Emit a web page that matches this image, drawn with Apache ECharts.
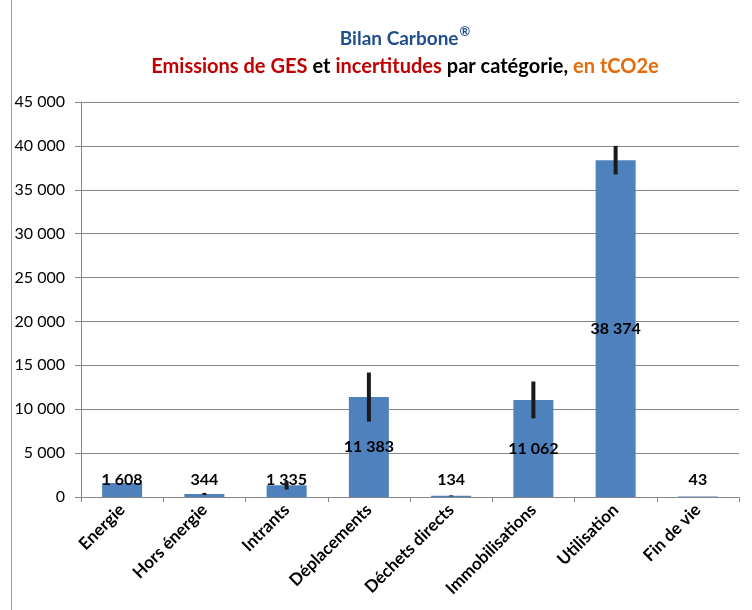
<!DOCTYPE html>
<html><head><meta charset="utf-8">
<script src="https://cdn.jsdelivr.net/npm/echarts@6/dist/echarts.min.js"></script>
<style>html,body{margin:0;padding:0;background:#fff}#c{width:752px;height:610px}</style>
</head><body><div id="c"></div>
<script>
const categories = ['Energie','Hors énergie','Intrants','Déplacements','Déchets directs','Immobilisations','Utilisation','Fin de vie'];
const emissions = [1608, 344, 1335, 11383, 134, 11062, 38374, 43];
const uncertainties = [0, 120, 480, 2800, 50, 2100, 1630, 0];
const yTicks = [0, 5000, 10000, 15000, 20000, 25000, 30000, 35000, 40000, 45000];

const fmt = v => String(Math.round(v)).replace(/\B(?=(\d{3})+(?!\d))/g, ' ');
const FONT = 'Lato';

const chart = echarts.init(document.getElementById('c'), null, {renderer: 'canvas'});
chart.setOption({
  animation: false,
  backgroundColor: '#fff',
  title: {
    left: 400, top: 20, textAlign: 'center',
    text: '{b|Bilan Carbone}{s|®}\n{r|Emissions de GES} {k|et} {r|incertitudes} {k|par catégorie,} {o|en tCO2e}',
    textStyle: {
      rich: {
        b: {fontFamily: FONT, fontWeight: 'bold', fontSize: 19, color: '#1F4E8C', lineHeight: 28},
        s: {fontFamily: FONT, fontWeight: 'bold', fontSize: 13, color: '#1F4E8C', lineHeight: 28, verticalAlign: 'top', padding: [0, 0, 6, 1]},
        r: {fontFamily: FONT, fontWeight: 'bold', fontSize: 20, color: '#C00000', lineHeight: 28},
        k: {fontFamily: FONT, fontWeight: 'bold', fontSize: 20, color: '#000', lineHeight: 28},
        o: {fontFamily: FONT, fontWeight: 'bold', fontSize: 20, color: '#E46C0A', lineHeight: 28}
      }
    }
  },
  graphic: [{type: 'line', shape: {x1: 11.5, y1: 0, x2: 11.5, y2: 610}, style: {stroke: '#A0A0A0', lineWidth: 1}}],
  grid: {left: 81, right: 13, top: 102, bottom: 113},
  xAxis: {
    type: 'category', data: categories,
    axisLine: {lineStyle: {color: '#868686'}},
    axisTick: {show: true, length: 5, lineStyle: {color: '#868686'}},
    axisLabel: {rotate: 45, interval: 0, fontFamily: FONT, fontWeight: 'bold', fontSize: 17, color: '#000', margin: 10}
  },
  yAxis: {
    type: 'value', min: yTicks[0], max: yTicks[yTicks.length - 1], interval: yTicks[1] - yTicks[0],
    axisLine: {show: true, lineStyle: {color: '#868686'}},
    axisTick: {show: true, length: 6, lineStyle: {color: '#868686'}},
    splitLine: {lineStyle: {color: '#868686', width: 1}},
    axisLabel: {fontFamily: FONT, fontSize: 16, color: '#000', margin: 16, formatter: v => fmt(v)}
  },
  series: [{
    type: 'bar', barWidth: 40, z: 2,
    itemStyle: {color: '#4F81BD'},
    data: emissions.map(v => ({
      value: v,
      label: v > 5000 ? {position: 'inside'} : {position: 'insideBottom', distance: 9}
    })),
    label: {show: true, fontFamily: FONT, fontWeight: 'bold', fontSize: 16, color: '#000', formatter: p => fmt(p.value)}
  }, {
    type: 'custom', z: 5,
    data: emissions.map((v, i) => [i, v - uncertainties[i], v + uncertainties[i]]),
    renderItem: (params, api) => {
      const lo = api.coord([api.value(0), api.value(1)]);
      const hi = api.coord([api.value(0), api.value(2)]);
      if (Math.abs(lo[1] - hi[1]) < 0.5) return null;
      return {type: 'line', shape: {x1: lo[0], y1: lo[1], x2: hi[0], y2: hi[1]}, style: {stroke: '#1A1A1A', lineWidth: 4}};
    }
  }]
});
</script></body></html>
